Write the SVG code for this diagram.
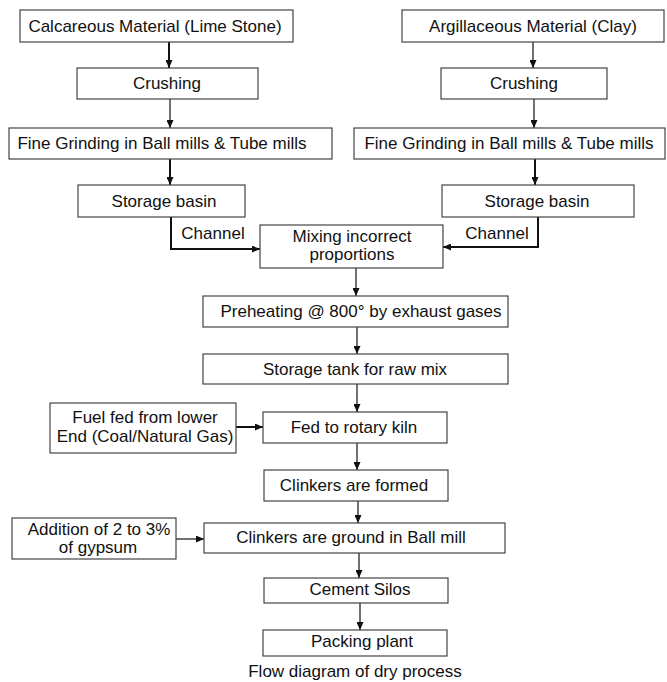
<svg xmlns="http://www.w3.org/2000/svg" width="667" height="682" viewBox="0 0 667 682">
<defs>
<marker id="ah" markerUnits="userSpaceOnUse" markerWidth="9" markerHeight="7" refX="8" refY="3.5" orient="auto">
<path d="M0,0 L8,3.5 L0,7 z" fill="#111"/>
</marker>
<style>
rect{fill:#fff;stroke:#444;stroke-width:1.2}
text{font-family:"Liberation Sans",Arial,sans-serif;font-size:17px;fill:#111;text-anchor:middle}
.c{fill:none;stroke:#111;stroke-width:1.2;marker-end:url(#ah)}
.t{stroke-width:2}
</style>
</defs>
<rect width="667" height="682" style="fill:#fff;stroke:none"/>
<g id="connectors">
<path class="c t" d="M169,42 V68"/>
<path class="c" d="M170,99 V128"/>
<path class="c t" d="M170,159 V185"/>
<path class="c" d="M533,42 V68"/>
<path class="c" d="M534,99 V128"/>
<path class="c t" d="M535,159 V185"/>
<path class="c t" d="M171,217 V249 H260"/>
<path class="c t" d="M538,217 V247 H443"/>
<path class="c" d="M356,268 V296"/>
<path class="c" d="M357,327 V354"/>
<path class="c" d="M357,384 V412"/>
<path class="c t" d="M236,427 H263"/>
<path class="c" d="M357,443 V470"/>
<path class="c" d="M358,501 V523"/>
<path class="c" d="M176,539 H204"/>
<path class="c" d="M359,553 V578"/>
<path class="c" d="M360,603 V630"/>
</g>
<g id="calcareous"><rect x="20" y="10" width="273" height="32"/><text x="155" y="32">Calcareous Material (Lime Stone)</text></g>
<g id="crushing-left"><rect x="77" y="68" width="181" height="31"/><text x="167" y="89">Crushing</text></g>
<g id="grinding-left"><rect x="9" y="128" width="323" height="31"/><text x="162" y="149">Fine Grinding in Ball mills &amp; Tube mills</text></g>
<g id="storage-left"><rect x="78" y="185" width="167" height="32"/><text x="164" y="207">Storage basin</text></g>
<g id="argillaceous"><rect x="402" y="10" width="262" height="32"/><text x="533" y="32">Argillaceous Material (Clay)</text></g>
<g id="crushing-right"><rect x="441" y="68" width="166" height="31"/><text x="524" y="89">Crushing</text></g>
<g id="grinding-right"><rect x="354" y="128" width="311" height="31"/><text x="509" y="149">Fine Grinding in Ball mills &amp; Tube mills</text></g>
<g id="storage-right"><rect x="442" y="185" width="192" height="32"/><text x="537" y="207">Storage basin</text></g>
<g id="channel-labels"><text x="213" y="239">Channel</text><text x="497" y="239">Channel</text></g>
<g id="mixing"><rect x="260" y="225" width="183" height="43"/><text x="352" y="242">Mixing incorrect</text><text x="352" y="260">proportions</text></g>
<g id="preheating"><rect x="203" y="296" width="305" height="31"/><text x="361" y="317">Preheating @ 800° by exhaust gases</text></g>
<g id="storage-tank"><rect x="203" y="354" width="305" height="30"/><text x="355" y="375">Storage tank for raw mix</text></g>
<g id="fuel"><rect x="50" y="403" width="186" height="50"/><text x="145" y="423">Fuel fed from lower</text><text x="145" y="442">End (Coal/Natural Gas)</text></g>
<g id="kiln"><rect x="263" y="412" width="184" height="31"/><text x="354" y="433">Fed to rotary kiln</text></g>
<g id="clinkers-formed"><rect x="264" y="470" width="184" height="31"/><text x="354" y="491">Clinkers are formed</text></g>
<g id="gypsum"><rect x="12" y="518" width="164" height="41"/><text x="99" y="535">Addition of 2 to 3%</text><text x="98" y="553">of gypsum</text></g>
<g id="clinkers-ground"><rect x="204" y="523" width="301" height="30"/><text x="351" y="543">Clinkers are ground in Ball mill</text></g>
<g id="silos"><rect x="264" y="578" width="184" height="25"/><text x="360" y="595">Cement Silos</text></g>
<g id="packing"><rect x="263" y="630" width="184" height="26"/><text x="362" y="647">Packing plant</text></g>
<text id="caption" x="355" y="677">Flow diagram of dry process</text>
</svg>
